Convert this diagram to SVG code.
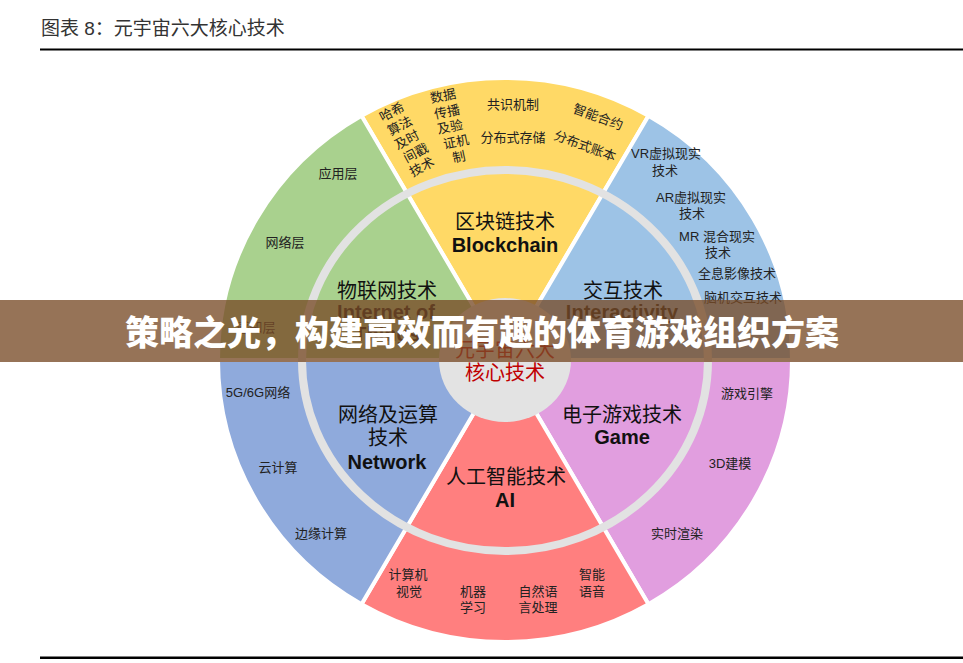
<svg xmlns="http://www.w3.org/2000/svg" width="963" height="663" viewBox="0 0 963 663">
<style>
  .sec { stroke: #ffffff; stroke-width: 4; stroke-linejoin: round; }
  .t { font-family: "Liberation Sans", "Noto Sans CJK SC", sans-serif; fill: #222; text-anchor: middle; }
  .s { font-size: 13px; }
  .big { font-size: 20px; fill: #111; }
  .bold { font-weight: bold; }
  .core { font-size: 20px; fill: #c00000; }
</style>
<rect width="963" height="663" fill="#ffffff"/>
<g id="header">
  <text x="41" y="35" style="font-family:'Liberation Sans','Noto Sans CJK SC',sans-serif;font-size:19px;fill:#333">图表 8：元宇宙六大核心技术</text>
  <rect x="40" y="48.5" width="923" height="2" fill="#000"/>
  <rect x="40" y="656.5" width="923" height="2.5" fill="#000"/>
</g>
<g id="sectors">
  <g id="blockchain">
    <path class="sec" fill="#FFD966" d="M505,360 L361.5,115.8 A287,282 0 0 1 648.5,115.8 Z"/>
  </g>
  <g id="interactivity">
    <path class="sec" fill="#9DC3E6" d="M505,360 L648.5,115.8 A287,282 0 0 1 792,360 Z"/>
  </g>
  <g id="game">
    <path class="sec" fill="#E19EDF" d="M505,360 L792,360 A287,282 0 0 1 648.5,604.2 Z"/>
  </g>
  <g id="ai">
    <path class="sec" fill="#FF7F7F" d="M505,360 L648.5,604.2 A287,282 0 0 1 361.5,604.2 Z"/>
  </g>
  <g id="network">
    <path class="sec" fill="#8FAADC" d="M505,360 L361.5,604.2 A287,282 0 0 1 218,360 Z"/>
  </g>
  <g id="iot">
    <path class="sec" fill="#A9D18E" d="M505,360 L218,360 A287,282 0 0 1 361.5,115.8 Z"/>
  </g>
</g>
<g id="ring">
  <ellipse cx="505" cy="360.5" rx="203" ry="190.5" fill="none" stroke="#E2E2E2" stroke-width="8"/>
</g>
<g id="center">
  <ellipse cx="505" cy="360" rx="66" ry="62" fill="#E3E3E3"/>
  <text class="t core" x="505" y="357">元宇宙六大</text>
  <text class="t core" x="505" y="380">核心技术</text>
</g>
<g id="labels-blockchain">
  <text class="t big" x="505" y="229">区块链技术</text>
  <text class="t big bold" x="505" y="252">Blockchain</text>
  <g class="t s" dominant-baseline="central">
    <text class="t s" x="392" y="112" transform="rotate(-28 392 112)" dominant-baseline="central">哈希</text>
    <text class="t s" x="400" y="126" transform="rotate(-28 400 126)" dominant-baseline="central">算法</text>
    <text class="t s" x="407" y="140" transform="rotate(-28 407 140)" dominant-baseline="central">及时</text>
    <text class="t s" x="416" y="153" transform="rotate(-28 416 153)" dominant-baseline="central">间戳</text>
    <text class="t s" x="422" y="167" transform="rotate(-28 422 167)" dominant-baseline="central">技术</text>
    <text class="t s" x="443" y="96" transform="rotate(-12 443 96)" dominant-baseline="central">数据</text>
    <text class="t s" x="447" y="112" transform="rotate(-12 447 112)" dominant-baseline="central">传播</text>
    <text class="t s" x="450" y="127" transform="rotate(-12 450 127)" dominant-baseline="central">及验</text>
    <text class="t s" x="456" y="142" transform="rotate(-12 456 142)" dominant-baseline="central">证机</text>
    <text class="t s" x="459" y="157" transform="rotate(-12 459 157)" dominant-baseline="central">制</text>
    <text class="t s" x="513" y="104" dominant-baseline="central">共识机制</text>
    <text class="t s" x="513" y="137" dominant-baseline="central">分布式存储</text>
    <text class="t s" x="598" y="117" transform="rotate(20 598 117)" dominant-baseline="central">智能合约</text>
    <text class="t s" x="585" y="146" transform="rotate(20 585 146)" dominant-baseline="central">分布式账本</text>
  </g>
</g>
<g id="labels-interactivity">
  <text class="t big" x="623" y="298">交互技术</text>
  <text class="t big bold" x="622" y="319">Interactivity</text>
  <text class="t s" x="666" y="158">VR虚拟现实</text>
  <text class="t s" x="665" y="175">技术</text>
  <text class="t s" x="691" y="202">AR虚拟现实</text>
  <text class="t s" x="692" y="218">技术</text>
  <text class="t s" x="717" y="241">MR 混合现实</text>
  <text class="t s" x="718" y="257">技术</text>
  <text class="t s" x="737" y="278">全息影像技术</text>
  <text class="t s" x="743" y="302">脑机交互技术</text>
</g>
<g id="labels-iot">
  <text class="t big" x="387" y="298">物联网技术</text>
  <text class="t big bold" x="386" y="319">Internet of</text>
  <text class="t big bold" x="387" y="341">Things</text>
  <text class="t s" x="338" y="178">应用层</text>
  <text class="t s" x="285" y="247">网络层</text>
  <text class="t s" x="256" y="332">感知层</text>
</g>
<g id="labels-network">
  <text class="t big" x="388" y="422">网络及运算</text>
  <text class="t big" x="388" y="445">技术</text>
  <text class="t big bold" x="387" y="469">Network</text>
  <text class="t s" x="258" y="397">5G/6G网络</text>
  <text class="t s" x="278" y="472">云计算</text>
  <text class="t s" x="321" y="538">边缘计算</text>
</g>
<g id="labels-game">
  <text class="t big" x="622" y="422">电子游戏技术</text>
  <text class="t big bold" x="622" y="444">Game</text>
  <text class="t s" x="747" y="398">游戏引擎</text>
  <text class="t s" x="730" y="468">3D建模</text>
  <text class="t s" x="677" y="538">实时渲染</text>
</g>
<g id="labels-ai">
  <text class="t big" x="506" y="484">人工智能技术</text>
  <text class="t big bold" x="505" y="507">AI</text>
  <text class="t s" x="408" y="579">计算机</text>
  <text class="t s" x="409" y="596">视觉</text>
  <text class="t s" x="473" y="596">机器</text>
  <text class="t s" x="473" y="612">学习</text>
  <text class="t s" x="538" y="596">自然语</text>
  <text class="t s" x="538" y="612">言处理</text>
  <text class="t s" x="592" y="579">智能</text>
  <text class="t s" x="592" y="596">语音</text>
</g>
<g id="banner">
  <rect x="0" y="300" width="963" height="62" fill="rgb(120,75,40)" fill-opacity="0.78"/>
  <text x="482" y="345" style="font-family:'Noto Sans CJK SC',sans-serif;font-size:34px;font-weight:900;fill:#ffffff;text-anchor:middle">策略之光，构建高效而有趣的体育游戏组织方案</text>
</g>
</svg>
